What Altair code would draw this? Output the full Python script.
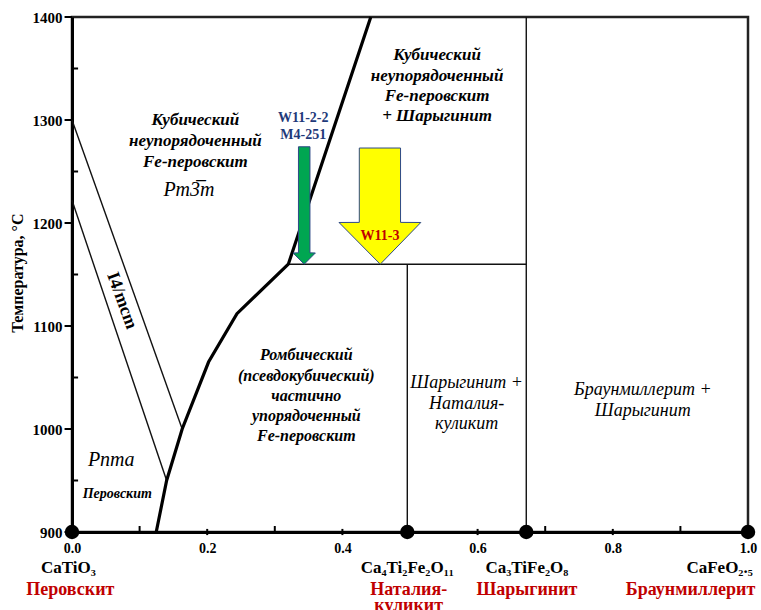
import altair as alt
import pandas as pd

SERIF = "Liberation Serif, DejaVu Serif, serif"
INK = "#000000"
RED = "#C00000"
BLUE = "#1F3A7A"

# axis ticks
x_major = [0.0, 0.2, 0.4, 0.6, 0.8, 1.0]
x_minor = [0.1, 0.3, 0.5, 0.7, 0.9]
t_major = [900, 1000, 1100, 1200, 1300, 1400]
t_minor = [950, 1050, 1150, 1250, 1350]

# thick phase boundary (Fe fraction, temperature)
bound_x = [0.1246, 0.140, 0.163, 0.202, 0.244, 0.320, 0.442]
bound_t = [900, 950, 1000, 1065, 1112, 1160, 1400]

# thin boundary segments
seg_x1 = [0.0, 0.0, 0.320, 0.496, 0.672]
seg_t1 = [1300, 1222, 1160, 900, 900]
seg_x2 = [0.163, 0.140, 0.672, 0.496, 0.672]
seg_t2 = [1000, 950, 1160, 1160, 1400]

# end-member / intermediate compositions
comp_x = [0.0, 0.496, 0.672, 1.0]
comp_t = [900, 900, 900, 900]

# sample arrows: outline rows from tip upwards
green_t = [1160, 1170.9, 1171.0, 1274]
green_l = [0.3435, 0.327, 0.335, 0.335]
green_r = [0.3435, 0.360, 0.352, 0.352]
yellow_t = [1160, 1200.5, 1200.6, 1272.8]
yellow_l = [0.456, 0.395, 0.425, 0.425]
yellow_r = [0.456, 0.516, 0.486, 0.486]

# field labels
cub_lines = ["Кубический", "неупорядоченный", "Fe-перовскит"]
cub_x = [0.1825, 0.1825, 0.1825]
cub_t = [1299.6, 1279.2, 1259.2]
cub2_lines = ["Кубический", "неупорядоченный", "Fe-перовскит", "+ Шарыгинит"]
cub2_x = [0.540, 0.540, 0.540, 0.540]
cub2_t = [1363.4, 1343.0, 1322.9, 1303.5]
rhomb_lines = ["Ромбический", "(псевдокубический)", "частично", "упорядоченный", "Fe-перовскит"]
rhomb_x = [0.3466] * 5
rhomb_t = [1072.1, 1051.7, 1032.3, 1012.2, 992.8]
mix_lines = ["Шарыгинит +", "Наталия-", "куликит", "Браунмиллерит +", "Шарыгинит"]
mix_x = [0.5838, 0.5838, 0.5838, 0.8444, 0.8444]
mix_t = [1044.7, 1024.6, 1005.1, 1038.2, 1017.1]

group_lines = ["Pm3\u0305m", "Pnma"]
group_x = [0.173, 0.058]
group_t = [1232.3, 970.2]

sample_lines = ["W11-2-2", "M4-251", "W11-3"]
sample_x = [0.342, 0.342, 0.4557]
sample_t = [1302.2, 1285.7, 1187.0]
sample_col = [BLUE, BLUE, RED]

formula_lines = ["CaTiO₃", "Ca₄Ti₂Fe₂O₁₁", "Ca₃TiFe₂O₈", "CaFeO₂.₅"]
formula_x = [-0.0054, 0.496, 0.673, 0.958]
formula_t = [865.3, 865.3, 865.3, 865.3]
mineral_lines = ["Перовскит", "Наталия-", "куликит", "Шарыгинит", "Браунмиллерит"]
mineral_x = [-0.0025, 0.498, 0.498, 0.673, 0.915]
mineral_t = [844.0, 844.0, 828.5, 844.0, 844.0]

XS = alt.Scale(domain=[0, 1], nice=False, zero=False)
YS = alt.Scale(domain=[900, 1400], nice=False, zero=False)


def X(field, **kw):
    return alt.X(field, type="quantitative", scale=XS, **kw)


def Y(field, **kw):
    return alt.Y(field, type="quantitative", scale=YS, **kw)


def text_layer(lines, xs, ts, size, style="normal", weight="bold", color=INK, angle=0):
    df = pd.DataFrame({"x": xs, "t": ts, "label": lines})
    kw = dict(font=SERIF, fontSize=size, fontStyle=style, fontWeight=weight,
              align="center", baseline="middle", color=color)
    if angle:
        kw["angle"] = angle
    return alt.Chart(df).mark_text(**kw).encode(x=X("x"), y=Y("t"), text="label:N")


# axes (labels only; tick marks are drawn as rules below)
axes = alt.Chart(pd.DataFrame({"x": [0.0], "t": [900]})).mark_point(opacity=0).encode(
    x=X("x", axis=alt.Axis(values=x_major, format=".1f", title=None, ticks=False, tickSize=0,
                          grid=False, labelFont=SERIF, labelFontSize=14, labelFontWeight="bold",
                          labelColor=INK, labelPadding=9, labelFlush=False,
                          domainColor=INK, domainWidth=3)),
    y=Y("t", axis=alt.Axis(values=t_major, format="d", title=None, ticks=False, tickSize=0,
                          grid=False, labelFont=SERIF, labelFontSize=15, labelFontWeight="bold",
                          labelColor=INK, labelPadding=10, labelFlush=False,
                          domainColor=INK, domainWidth=3)),
)

tick_df = pd.DataFrame({
    "x": x_major[1:-1] + x_minor + [-0.011] * len(t_major) + [0.0] * len(t_minor),
    "x2": x_major[1:-1] + x_minor + [0.0] * len(t_major) + [0.009] * len(t_minor),
    "t": [897.0] * 4 + [900.0] * 5 + t_major + t_minor,
    "t2": [903.0] * 4 + [905.8] * 5 + t_major + t_minor,
})
ticks = alt.Chart(tick_df).mark_rule(color=INK, strokeWidth=2).encode(
    x=X("x"), x2="x2", y=Y("t"), y2="t2")

seg_df = pd.DataFrame({"x": seg_x1, "t": seg_t1, "x2": seg_x2, "t2": seg_t2})
segments = alt.Chart(seg_df).mark_rule(color="#111111", strokeWidth=1.4).encode(
    x=X("x"), x2="x2", y=Y("t"), y2="t2")

bound_df = pd.DataFrame({"x": bound_x, "t": bound_t, "o": list(range(len(bound_x)))})
boundary = alt.Chart(bound_df).mark_line(color=INK, strokeWidth=3.2, strokeJoin="miter").encode(
    x=X("x"), y=Y("t"), order="o:Q")


def arrow(ts, ls, rs, fill):
    df = pd.DataFrame({"t": ts, "l": ls, "r": rs})
    return alt.Chart(df).mark_area(orient="horizontal", fill=fill, stroke="#2E4A86",
                                   strokeWidth=1, opacity=1).encode(
        y=Y("t"), x=X("l"), x2="r")


green = arrow(green_t, green_l, green_r, "#00A651")
yellow = arrow(yellow_t, yellow_l, yellow_r, "#FFFF00")

comp_df = pd.DataFrame({"x": comp_x, "t": comp_t})
comps = alt.Chart(comp_df).mark_circle(color=INK, size=210, opacity=1).encode(
    x=X("x"), y=Y("t"))

labels = [
    text_layer(cub_lines, cub_x, cub_t, 17, style="italic"),
    text_layer(cub2_lines, cub2_x, cub2_t, 17, style="italic"),
    text_layer(rhomb_lines, rhomb_x, rhomb_t, 16, style="italic"),
    text_layer(mix_lines, mix_x, mix_t, 18, style="italic", weight="normal"),
    text_layer(group_lines, group_x, group_t, 20, style="italic", weight="normal"),
    text_layer(["Перовскит"], [0.067], [937.2], 14, style="italic"),
    text_layer(["I4/mcm"], [0.0736], [1124.6], 18, angle=70),
    text_layer(formula_lines, formula_x, formula_t, 17),
    text_layer(mineral_lines, mineral_x, mineral_t, 18, color=RED),
    text_layer(["Температура, °C"], [-0.080], [1151.3], 16, angle=270),
]

sample_df = pd.DataFrame({"x": sample_x, "t": sample_t, "label": sample_lines, "c": sample_col})
samples = alt.Chart(sample_df).mark_text(
    font=SERIF, fontSize=14, fontWeight="bold", align="center", baseline="middle").encode(
    x=X("x"), y=Y("t"), text="label:N", color=alt.Color("c:N", scale=None))

chart = alt.layer(
    axes, segments, boundary, green, yellow, ticks, comps, *labels, samples
).properties(
    width=676, height=515,
    padding={"left": 72, "top": 17, "right": 13, "bottom": 78},
    autosize=alt.AutoSizeParams(type="none"),
).configure_view(stroke="#222222", strokeWidth=2.5)

chart.save("out.html", embed_options={"renderer": "svg", "actions": False})
